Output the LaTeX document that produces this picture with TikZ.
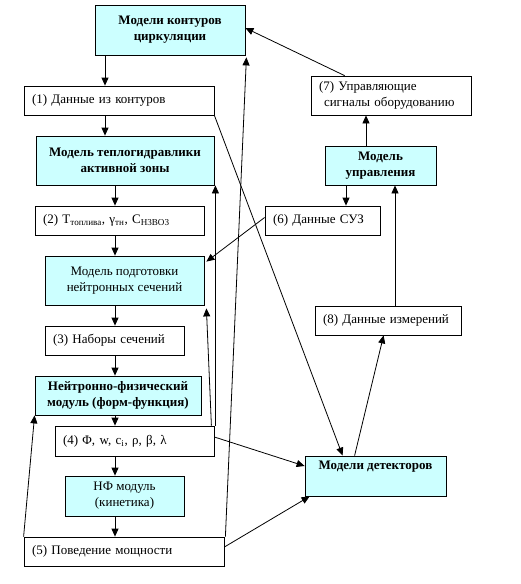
\documentclass[tikz,border=0pt]{standalone}
\usepackage{fontspec}
\setmainfont{Liberation Serif}
\usetikzlibrary{arrows.meta}
\definecolor{cellcyan}{HTML}{CCFFFF}
\tikzset{
  model/.style={draw, fill=cellcyan, align=center, inner sep=0pt},
  keymodel/.style={model, font=\bfseries},
  data/.style={draw, fill=white, align=left, inner xsep=8pt, inner ysep=0pt,
    minimum height=29pt, text width=#1},
  arr/.style={-{Triangle[length=8pt, width=7pt]}}
}
\begin{document}
\fontsize{13}{16}\selectfont
\begin{tikzpicture}[x=1pt, y=-1pt, line width=0.8pt]
  \useasboundingbox (0,0) rectangle (521,584);

  % left column
  \node[keymodel, minimum width=150pt, minimum height=50pt] (cont) at (170,30) {Модели контуров\\циркуляции};
  \node[data=174pt] (d1) at (119,100.5) {(1) Данные из контуров};
  \node[keymodel, minimum width=178pt, minimum height=49pt] (th) at (125,160.5) {Модель теплогидравлики\\активной зоны};
  \node[data=153pt] (d2) at (119.5,220.5) {(2) T\textsubscript{топлива}, γ\textsubscript{тн}, C\textsubscript{H3BO3}};
  \node[model, minimum width=159pt, minimum height=49pt] (xs) at (124.5,280.5) {Модель подготовки\\нейтронных сечений};
  \node[data=123pt] (d3) at (114.5,340.5) {(3) Наборы сечений};
  \node[keymodel, minimum width=166pt, minimum height=39pt] (nf) at (118,395.5) {Нейтронно-физический\\модуль (форм-функция)};
  \node[data=143pt, minimum height=30pt] (d4) at (134.5,441) {(4) Φ, w, c\textsubscript{i}, ρ, β, λ};
  \node[model, minimum width=119pt, minimum height=40pt] (kin) at (124.5,496) {НФ модуль\\(кинетика)};
  \node[data=184pt] (d5) at (124,551.5) {(5) Поведение мощности};

  % right column
  \node[data=144pt, minimum height=39pt] (d7) at (391,95.5) {(7) Управляющие\\\hspace*{5pt}сигналы оборудованию};
  \node[keymodel, minimum width=111pt, minimum height=39pt] (ctrl) at (380.5,165.5) {Модель\\управления};
  \node[data=99pt] (d6) at (322.5,220.5) {(6) Данные СУЗ};
  \node[data=130pt] (d8) at (388,320.5) {(8) Данные измерений};
  \node[keymodel, minimum width=141pt, minimum height=40pt] (det) at (375.5,476) {Модели детекторов\\\strut};

  \coordinate (axisA) at (105,0);
  \coordinate (axisB) at (115,0);
  \coordinate (axisC) at (366,0);
  \coordinate (axisD) at (346,0);
  \coordinate (axisE) at (395,0);

  % main chain
  \draw[arr] (cont.south -| axisA) -- (d1.north -| axisA);
  \draw[arr] (d1.south -| axisA) -- (th.north -| axisA);
  \draw[arr] (th.south -| axisB) -- (d2.north -| axisB);
  \draw[arr] (d2.south -| axisB) -- (xs.north -| axisB);
  \draw[arr] (xs.south -| axisB) -- (d3.north -| axisB);
  \draw[arr] (d3.south -| axisB) -- (nf.north -| axisB);
  \draw[arr] (nf.south -| axisB) -- (d4.north -| axisB);
  \draw[arr] (d4.south -| axisB) -- (kin.north -| axisB);
  \draw[arr] (kin.south -| axisB) -- (d5.north -| axisB);

  % control loop
  \draw[arr] (ctrl.north -| axisC) -- (d7.south -| axisC);
  \draw[arr] ([xshift=34pt]d7.north west) -- ([yshift=2pt]cont.east);
  \draw[arr] (ctrl.south -| axisD) -- (d6.north -| axisD);
  \draw[arr] (d8.north -| axisE) -- (ctrl.south -| axisE);
  \draw[arr] ([xshift=50pt]det.north west) -- ([xshift=69pt]d8.south west);
  \draw[arr] ([yshift=3pt]d6.west) -- ([xshift=2pt,yshift=-6pt]xs.north east);

  % feedback lines
  \draw[arr] (d1.south east) -- ([xshift=38pt]det.north west);
  \draw[arr] ([xshift=1pt]d4.north east) -- ([xshift=1pt]th.south east);
  \draw[arr] ([xshift=-3pt]d4.north east) -- ([xshift=2pt,yshift=-3pt]xs.south east);
  \draw[arr] ([yshift=4pt]d4.east) -- ([yshift=10pt]det.west);
  \draw[arr] ([yshift=4.5pt]d5.east) -- ([xshift=5pt]det.south west);
  \draw[arr] ([xshift=1pt]d5.north east) -- ([xshift=1pt,yshift=-2pt]cont.south east);
  \draw[arr] (d5.north west) -- (nf.south west);
\end{tikzpicture}
\end{document}
